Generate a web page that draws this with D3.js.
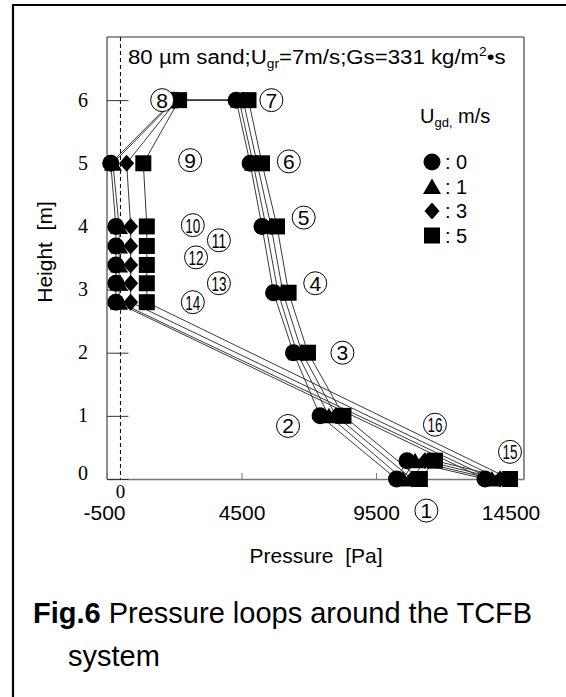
<!DOCTYPE html>
<html><head><meta charset="utf-8">
<script src="https://cdn.jsdelivr.net/npm/d3@7"></script>
<style>body{margin:0;background:#fff} svg{display:block}</style>
</head><body>
<svg id="c" width="566" height="697"></svg>
<script>
// ---------- data ----------
const pointIds = d3.range(1, 17);
const heights = [0, 1, 2, 2.95, 4, 5, 6, 6, 5, 4, 3.69, 3.39, 3.1, 2.8, 0, 0.29];
const ugdLabels = ["0", "1", "3", "5"];
const pressureUgd0 = [10260, 7420, 6430, 5690, 5260, 4820, 4300, 1970, -360, -170, -170, -170, -170, -170, 13550, 10650];
const pressureUgd1 = [10500, 7750, 6560, 5860, 5410, 4930, 4410, 2030, -280, -50, -50, -50, -50, -50, 13810, 10950];
const pressureUgd3 = [10840, 8010, 6750, 6040, 5600, 5080, 4560, 2100, 230, 380, 380, 380, 380, 380, 14110, 11320];
const pressureUgd5 = [11130, 8290, 6970, 6250, 5820, 5260, 4760, 2180, 850, 980, 980, 980, 980, 980, 14480, 11690];
const xTickValues = [-500, 4500, 9500, 14500];
const yTickValues = [0, 1, 2, 3, 4, 5, 6];
const labelPos = [ // label anchor (pressure, height) for circled numbers
  [11370, -0.5], [6230, 0.84], [8250, 2.0], [7240, 3.1], [6810, 4.14], [6260, 5.03], [5610, 6.0],
  [1550, 6.0], [2590, 5.05], [2690, 4.02], [3660, 3.78], [2810, 3.51], [3660, 3.1], [2690, 2.8],
  [14480, 0.43], [11690, 0.86]
];
const seriesValues = [pressureUgd0, pressureUgd1, pressureUgd3, pressureUgd5];

// ---------- layout ----------
const svg = d3.select("#c");
const x = d3.scaleLinear().domain([-500, 15000]).range([107, 524]);
const y = d3.scaleLinear().domain([0, 7]).range([479, 37]);
const SANS = "'Liberation Sans', Arial, sans-serif";
const SERIF = "'Liberation Serif', 'Times New Roman', serif";

// outer figure border (left and top)
svg.append("line").attr("x1", 13).attr("x2", 13).attr("y1", 4).attr("y2", 697).attr("stroke", "#000").attr("stroke-width", 2.2);
svg.append("line").attr("x1", 12).attr("x2", 566).attr("y1", 5).attr("y2", 5).attr("stroke", "#000").attr("stroke-width", 2.2);

// plot frame
const g = svg.append("g");
g.append("line").attr("x1", x(-500)).attr("x2", x(-500)).attr("y1", y(7)).attr("y2", y(0)).attr("stroke", "#444").attr("stroke-width", 1.2);
g.append("line").attr("x1", x(-500)).attr("x2", x(15000)).attr("y1", y(7)).attr("y2", y(7)).attr("stroke", "#333").attr("stroke-width", 1.2);
g.append("line").attr("x1", x(15000)).attr("x2", x(15000)).attr("y1", y(7)).attr("y2", y(0)).attr("stroke", "#444").attr("stroke-width", 1.2);

// zero dashed line
g.append("line").attr("x1", x(0)).attr("x2", x(0)).attr("y1", y(7)).attr("y2", y(0))
  .attr("stroke", "#000").attr("stroke-width", 1).attr("stroke-dasharray", "4,3");

// x axis
const xAxis = d3.axisBottom(x).tickValues(xTickValues).tickSizeInner(-6).tickSizeOuter(0).tickPadding(0).tickFormat(d => String(d));
const xa = g.append("g").attr("transform", `translate(0,${y(0)})`).call(xAxis);
xa.select(".domain").attr("stroke", "#777").attr("stroke-width", 1.6);
xa.selectAll(".tick line").attr("stroke", "#777");
xa.selectAll(".tick text").attr("font-family", SANS).attr("font-size", 21).attr("fill", "#000").attr("y", 41).attr("dy", 0);
xa.selectAll(".tick").filter(d => d === -500).select("text").attr("dx", -3);

// y axis ticks crossing the zero line
const yAxis = d3.axisLeft(y).tickValues(yTickValues).tickSize(0).tickPadding(0).tickFormat(d => String(d));
const ya = g.append("g").attr("transform", `translate(${x(-500)},0)`).call(yAxis);
ya.select(".domain").remove();
ya.selectAll(".tick text").attr("font-family", SERIF).attr("font-size", 20).attr("fill", "#000").attr("x", -24).attr("text-anchor", "middle").attr("dy", "0.3em");
ya.selectAll(".tick").filter(d => d === 0).select("text").attr("dy", "0.0em");
ya.selectAll(".tick").append("line").attr("x1", 0).attr("x2", x(0) - x(-500) + 8).attr("stroke", "#333").attr("stroke-width", 1);

// serif 0 under the dashed line
g.append("text").attr("x", x(0)).attr("y", y(0) + 19).attr("text-anchor", "middle").attr("font-family", SERIF).attr("font-size", 19).text("0");

// ---------- loops ----------
const line = d3.line().x(d => x(d[0])).y(d => y(d[1])).curve(d3.curveLinearClosed);
seriesValues.forEach(vals => {
  g.append("path").datum(vals.map((p, i) => [p, heights[i]]))
    .attr("d", line).attr("fill", "none").attr("stroke", "#3a3a3a").attr("stroke-width", 1);
});

// symbols
const symTri = { draw(ctx) { ctx.moveTo(0, -8); ctx.lineTo(9, 7.5); ctx.lineTo(-9, 7.5); ctx.closePath(); } };
const symDia = { draw(ctx) { ctx.moveTo(0, -8.5); ctx.lineTo(7.5, 0); ctx.lineTo(0, 8.5); ctx.lineTo(-7.5, 0); ctx.closePath(); } };
const symSq = { draw(ctx) { ctx.rect(-8, -8, 16, 16); } };
const symbolTypes = [d3.symbolCircle, symTri, symDia, symSq];
const symbolSizes = [Math.PI * 8.5 * 8.5, 1, 1, 1];
seriesValues.forEach((vals, si) => {
  g.append("g").selectAll("path").data(vals.map((p, i) => [p, heights[i]])).join("path")
    .attr("transform", d => `translate(${x(d[0])},${y(d[1])})`)
    .attr("d", d3.symbol().type(symbolTypes[si]).size(symbolSizes[si])())
    .attr("fill", "#000");
});

// circled numbers
const lab = g.append("g");
pointIds.forEach((id, i) => {
  const cx = x(labelPos[i][0]), cy = y(labelPos[i][1]);
  lab.append("circle").attr("cx", cx).attr("cy", cy).attr("r", 11.5).attr("fill", "#fff").attr("stroke", "#000").attr("stroke-width", 1);
  const t = lab.append("text").attr("x", cx).attr("y", cy + 7.5).attr("text-anchor", "middle")
    .attr("font-family", SANS).attr("font-size", 21).attr("fill", "#000").text(String(id));
  if (id >= 10) t.attr("textLength", 15).attr("lengthAdjust", "spacingAndGlyphs").attr("font-size", 20);
});

// title inside plot
const title = svg.append("text").attr("x", 128).attr("y", 64).attr("font-family", SANS).attr("font-size", 21);
title.append("tspan").text("80 \u00b5m sand;U");
title.append("tspan").attr("font-size", 13).attr("dy", 4).text("gr");
title.append("tspan").attr("dy", -4).text("=7m/s;Gs=331 kg/m");
title.append("tspan").attr("font-size", 13).attr("dy", -8).text("2");
title.append("tspan").attr("dy", 8).text("\u2022s");
{
  const w = title.node().getBBox().width;
  const target = 378;
  title.attr("transform", `translate(128,0) scale(${target / w},1) translate(-128,0)`);
}

// legend
const lg = svg.append("g");
const lt = lg.append("text").attr("x", 420).attr("y", 123).attr("font-family", SANS).attr("font-size", 20);
lt.append("tspan").text("U");
lt.append("tspan").attr("font-size", 13).attr("dy", 4).text("gd,");
lt.append("tspan").attr("dy", -4).text(" m/s");
ugdLabels.forEach((lbl, i) => {
  const ly = 162 + i * 24.5;
  lg.append("path").attr("transform", `translate(432,${ly})`)
    .attr("d", d3.symbol().type(symbolTypes[i]).size(symbolSizes[i])()).attr("fill", "#000");
  lg.append("text").attr("x", 445).attr("y", ly + 7).attr("font-family", SANS).attr("font-size", 20).text(": " + lbl);
});

// axis titles
svg.append("text").attr("x", 316).attr("y", 563).attr("text-anchor", "middle").attr("font-family", SANS).attr("font-size", 21).text("Pressure\u00a0 [Pa]");
svg.append("text").attr("transform", "translate(52,252) rotate(-90)").attr("text-anchor", "middle").attr("font-family", SANS).attr("font-size", 21).text("Height\u00a0 [m]");

// caption
const cap = svg.append("text").attr("x", 33).attr("y", 623).attr("font-family", SANS).attr("font-size", 29);
cap.append("tspan").attr("font-weight", "bold").text("Fig.6");
cap.append("tspan").text(" Pressure loops around the TCFB");
svg.append("text").attr("x", 68).attr("y", 666).attr("font-family", SANS).attr("font-size", 29).text("system");
</script>
</body></html>
